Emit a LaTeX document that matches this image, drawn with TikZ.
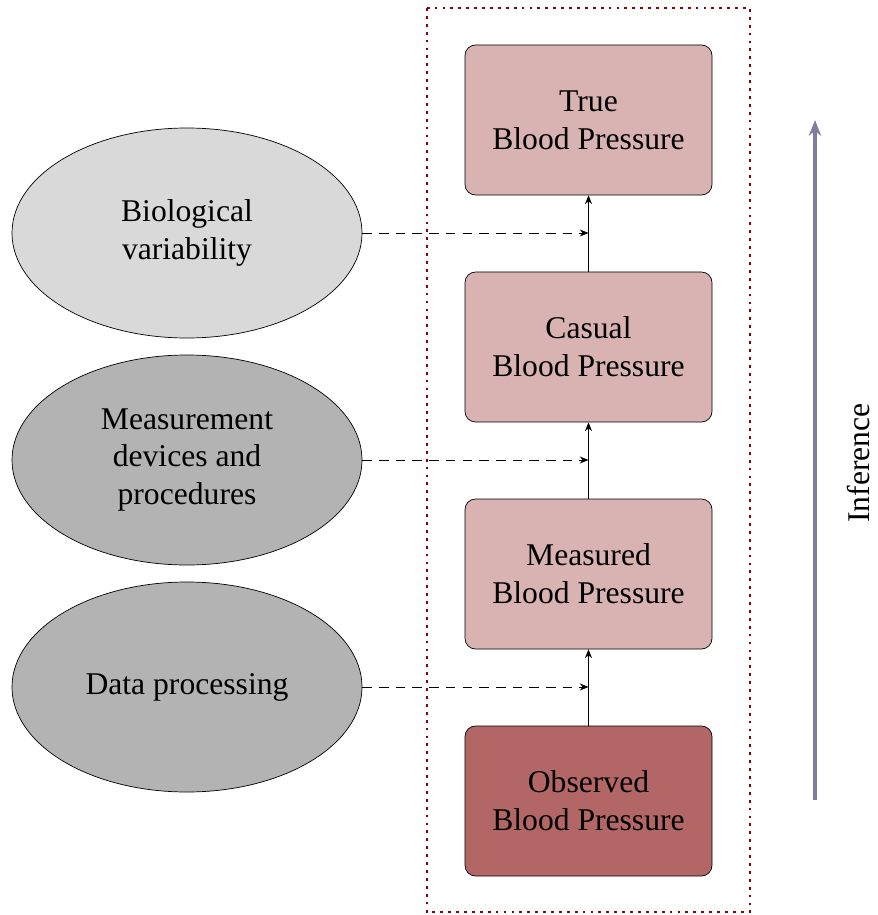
\documentclass[tikz,border=0pt]{standalone}
\usepackage{fontspec}
\setmainfont{Liberation Serif}
\usetikzlibrary{arrows.meta,shapes.geometric}
\definecolor{bplight}{RGB}{217,178,178}
\definecolor{bpdark}{RGB}{179,102,102}
\definecolor{srclight}{RGB}{217,217,217}
\definecolor{srcdark}{RGB}{179,179,179}
\definecolor{inferblue}{RGB}{128,125,160}
\definecolor{framered}{RGB}{139,0,0}
\tikzset{
  bpbox/.style={draw=black, fill=bplight, rounded corners=6pt, minimum width=4.94cm,
    minimum height=3cm, align=center, inner sep=0pt},
  source/.style={draw=black, ellipse, fill=srcdark, minimum width=7cm,
    minimum height=4.2cm, align=center, inner sep=0pt},
  step arrow/.style={-{Stealth[length=5pt,width=4pt]}, line width=0.6pt},
  effect arrow/.style={-{Stealth[length=5pt,width=4pt]}, line width=0.5pt, dash pattern=on 5.5pt off 4pt}
}
\begin{document}
\begin{tikzpicture}[scale=0.2, font=\fontsize{18}{21.6}\selectfont]
\useasboundingbox (0,0) rectangle (87.7,-91.5);
% frame round the blood pressure chain
\draw [framered, line width=1.6pt, dash pattern=on 1.6pt off 2.9pt] (42.7,-0.8) rectangle (75,-91.2);
% blood pressure chain
\node [bpbox] (true) at (58.85,-12) {True\\Blood Pressure};
\node [bpbox] (casual) at (58.85,-34.7) {Casual\\Blood Pressure};
\node [bpbox] (meas) at (58.85,-57.4) {Measured\\Blood Pressure};
\node [bpbox, fill=bpdark] (obs) at (58.85,-80.1) {Observed\\Blood Pressure};
\draw [step arrow] (obs.north) -- (meas.south);
\draw [step arrow] (meas.north) -- (casual.south);
\draw [step arrow] (casual.north) -- (true.south);
% sources of variation
\node [source, fill=srclight] (bio) at (18.7,-23.3) {Biological\\variability};
\node [source] (dev) at (18.7,-46) {Measurement\\devices and\\procedures};
\node [source] (proc) at (18.7,-68.7) {Data processing};
\draw [effect arrow] (bio.east) -- (true.south |- bio.east);
\draw [effect arrow] (dev.east) -- (casual.south |- dev.east);
\draw [effect arrow] (proc.east) -- (meas.south |- proc.east);
% inference
\coordinate (infbot) at (81.5,-80);
\coordinate (inftop) at (81.5,-12);
\draw [inferblue, line width=2.2pt, -{Stealth[length=9pt,width=7pt]}] (infbot) -- (inftop);
\node [rotate=90] (inf) at (85.9,-46.3) {Inference};
\end{tikzpicture}
\end{document}
